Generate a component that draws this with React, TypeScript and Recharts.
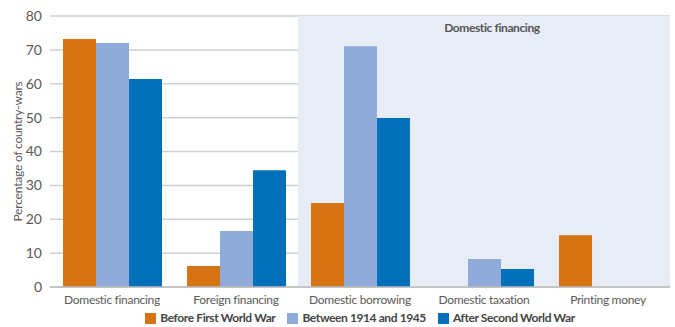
import {
  Bar,
  BarChart,
  CartesianGrid,
  Legend,
  ReferenceArea,
  XAxis,
  YAxis,
} from "recharts";

const categories = [
  "Domestic financing",
  "Foreign financing",
  "Domestic borrowing",
  "Domestic taxation",
  "Printing money",
];
const beforeWW1 = [73.2, 6.2, 24.8, 0, 15.3];
const between = [72.0, 16.5, 71.1, 8.3, 0];
const afterWW2 = [61.4, 34.5, 49.9, 5.3, 0];
const yTicks = [0, 10, 20, 30, 40, 50, 60, 70, 80];

const seriesNames = ["Before First World War", "Between 1914 and 1945", "After Second World War"];
const seriesColors = ["#D67312", "#8EABDA", "#0070BA"];

const data = categories.map((name, i) => ({
  name,
  before: beforeWW1[i],
  between: between[i],
  after: afterWW2[i],
}));

const FONT = "Lato, 'DejaVu Sans Condensed', sans-serif";
const TEXT = "#595959";

// label for the shaded block, nudged a bit right like the original
const ShadeLabel = (props: any) => {
  const { viewBox } = props;
  if (!viewBox) return null;
  return (
    <text
      x={viewBox.x + viewBox.width / 2 + 8}
      y={viewBox.y + 16}
      textAnchor="middle"
      fill="#555"
      fontSize={12}
      fontWeight="bold"
      letterSpacing={-0.4}
      fontFamily={FONT}
    >
      Domestic financing
    </text>
  );
};

// keep legend in series order (recharts 3 sorts it otherwise)
const LegendContent = () => (
  <div
    style={{
      display: "flex",
      justifyContent: "center",
      gap: 12,
      paddingTop: 4,
      fontFamily: FONT,
      fontSize: 12,
      lineHeight: "14px",
      letterSpacing: -0.4,
      fontWeight: "bold",
      color: "#444",
    }}
  >
    {seriesNames.map((n, i) => (
      <div key={n} style={{ display: "flex", alignItems: "center" }}>
        <span
          style={{
            width: 11,
            height: 11,
            background: seriesColors[i],
            marginRight: 4,
            display: "inline-block",
          }}
        />
        {n}
      </div>
    ))}
  </div>
);

export default function App() {
  return (
    <div style={{ position: "absolute", left: 0, top: 0, fontFamily: FONT }}>
      <BarChart
        width={675}
        height={327}
        data={data}
        margin={{ top: 16, right: 5, left: 0, bottom: 0 }}
        barCategoryGap="10.5%"
        barGap={0}
      >
        <ReferenceArea
          x1="Domestic borrowing"
          x2="Printing money"
          y1={0}
          y2={80}
          fill="#E8ECF7"
          fillOpacity={1}
          stroke="none"
          label={<ShadeLabel />}
          ifOverflow="extendDomain"
        />
        <CartesianGrid vertical={false} stroke="#CFCFCF" strokeWidth={1.5} />
        <XAxis
          dataKey="name"
          tickLine={false}
          axisLine={{ stroke: "#BDBDBD", strokeWidth: 1.5 }}
          tick={{ fill: TEXT, fontSize: 12, letterSpacing: -0.3, fontFamily: FONT }}
          height={20}
          interval={0}
        />
        <YAxis
          domain={[0, 80]}
          ticks={yTicks}
          width={50}
          tickLine={false}
          axisLine={false}
          tick={{ fill: TEXT, fontSize: 14, fontFamily: FONT }}
          label={{
            value: "Percentage of country-wars",
            angle: -90,
            position: "insideLeft",
            offset: 18,
            style: {
              fill: TEXT,
              fontSize: 12,
              letterSpacing: -0.2,
              fontFamily: FONT,
              textAnchor: "middle",
            },
          }}
        />
        <Legend
          verticalAlign="bottom"
          height={20}
          wrapperStyle={{ left: 50, width: 620 }}
          content={<LegendContent />}
        />
        <Bar dataKey="before" name={seriesNames[0]} fill={seriesColors[0]} isAnimationActive={false} />
        <Bar dataKey="between" name={seriesNames[1]} fill={seriesColors[1]} isAnimationActive={false} />
        <Bar dataKey="after" name={seriesNames[2]} fill={seriesColors[2]} isAnimationActive={false} />
      </BarChart>
    </div>
  );
}
